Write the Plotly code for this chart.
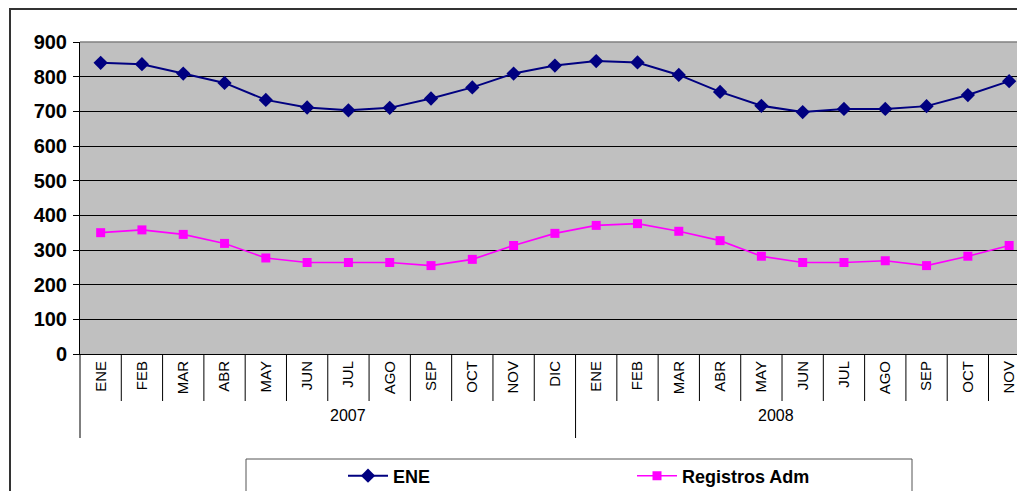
import plotly.graph_objects as go

months = ["ENE", "FEB", "MAR", "ABR", "MAY", "JUN", "JUL", "AGO", "SEP", "OCT", "NOV", "DIC",
          "ENE", "FEB", "MAR", "ABR", "MAY", "JUN", "JUL", "AGO", "SEP", "OCT", "NOV"]
years = ["2007", "2008"]
year_of = ["2007"] * 12 + ["2008"] * 11

ene = [840, 836, 809, 782, 733, 711, 703, 710, 737, 769, 809, 832,
       845, 841, 805, 756, 716, 698, 707, 707, 715, 747, 787]
registros = [350, 358, 345, 319, 277, 264, 264, 264, 255, 273, 313, 348,
             371, 376, 354, 327, 282, 264, 264, 269, 255, 282, 313]

W, H = 1017, 491
PL, PR, PT, PB = 80, 1017, 42, 354          # plot area in window pixels
L, R, T, B = PL, W - PR, PT, H - PB
pw, ph = PR - PL, PB - PT
xmin, xmax = -0.5, 22.19
FONT = "Liberation Sans, Arial, sans-serif"

idx = list(range(len(months)))

def xp(v):
    return (v - xmin) / (xmax - xmin)

def xpx(px):
    return (px - PL) / pw

def yp(py):
    return (PB - py) / ph

fig = go.Figure()
fig.add_trace(go.Scatter(x=idx, y=ene, name="ENE", mode="lines+markers",
                         line=dict(color="#000080", width=2),
                         marker=dict(symbol="diamond", size=11, color="#000080")))
fig.add_trace(go.Scatter(x=idx, y=registros, name="Registros Adm", mode="lines+markers",
                         line=dict(color="#FF00FF", width=1.6),
                         marker=dict(symbol="square", size=9, color="#FF00FF")))

shapes = []
# month separators
for i in range(len(months) - 1):
    b = i + 0.5
    if b > xmax:
        break
    long_ = (year_of[i] != year_of[i + 1])
    shapes.append(dict(type="line", xref="paper", yref="paper", x0=xp(b), x1=xp(b),
                       y0=0, y1=yp(438 if long_ else 401),
                       line=dict(color="black", width=1)))
shapes.append(dict(type="line", xref="paper", yref="paper", x0=0, x1=0, y0=0, y1=yp(438),
                   line=dict(color="black", width=1)))
# plot top border
shapes.append(dict(type="line", xref="paper", yref="paper", x0=0, x1=1, y0=1, y1=1,
                   line=dict(color="#808080", width=1.5)))
# outer chart border
shapes.append(dict(type="rect", xref="paper", yref="paper",
                   x0=xpx(10), x1=1.1, y0=yp(9), y1=yp(540),
                   line=dict(color="#333333", width=2)))
# legend box
shapes.append(dict(type="rect", xref="paper", yref="paper",
                   x0=xpx(246), x1=xpx(912), y0=yp(459), y1=yp(540),
                   line=dict(color="#555555", width=1)))

annotations = []
for yr in years:
    members = [i for i in idx if year_of[i] == yr]
    lo = max(min(members) - 0.5, xmin)
    hi = min(max(members) + 0.5, xmax)
    annotations.append(dict(x=xp((lo + hi) / 2), y=yp(426), xref="paper", yref="paper",
                            text=yr, showarrow=False,
                            font=dict(family=FONT, size=16, color="black")))

fig.update_layout(
    width=W, height=H,
    margin=dict(l=L, r=R, t=T, b=B, autoexpand=False),
    paper_bgcolor="white", plot_bgcolor="#C0C0C0",
    font=dict(family=FONT, color="black"),
    showlegend=True,
    legend=dict(orientation="h", x=xpx(343), xanchor="left",
                y=yp(476), yanchor="middle",
                font=dict(family=FONT, size=18, color="black", weight="bold"),
                itemwidth=40, entrywidth=234, entrywidthmode="pixels",
                bgcolor="rgba(0,0,0,0)", borderwidth=0),
    xaxis=dict(range=[xmin, xmax], tickvals=idx, ticktext=months, tickangle=-90,
               ticks="", showgrid=False, zeroline=False, showline=True,
               linecolor="black", linewidth=1, ticklabeloverflow="allow",
               tickfont=dict(family=FONT, size=15, color="black")),
    yaxis=dict(range=[0, 900], dtick=100, tick0=0, showgrid=True, gridcolor="black",
               gridwidth=1, zeroline=False, showline=True, linecolor="black", linewidth=1,
               ticks="outside", ticklen=6, tickcolor="black", ticklabelstandoff=2,
               tickfont=dict(family=FONT, size=20, color="black", weight="bold")),
    shapes=shapes, annotations=annotations,
)

fig.write_html(
    "out.html",
    config={"displayModeBar": False},
    post_script=("document.documentElement.style.overflow='hidden';"
                 "document.body.style.overflow='hidden';"
                 "document.body.style.margin='0';"),
)
